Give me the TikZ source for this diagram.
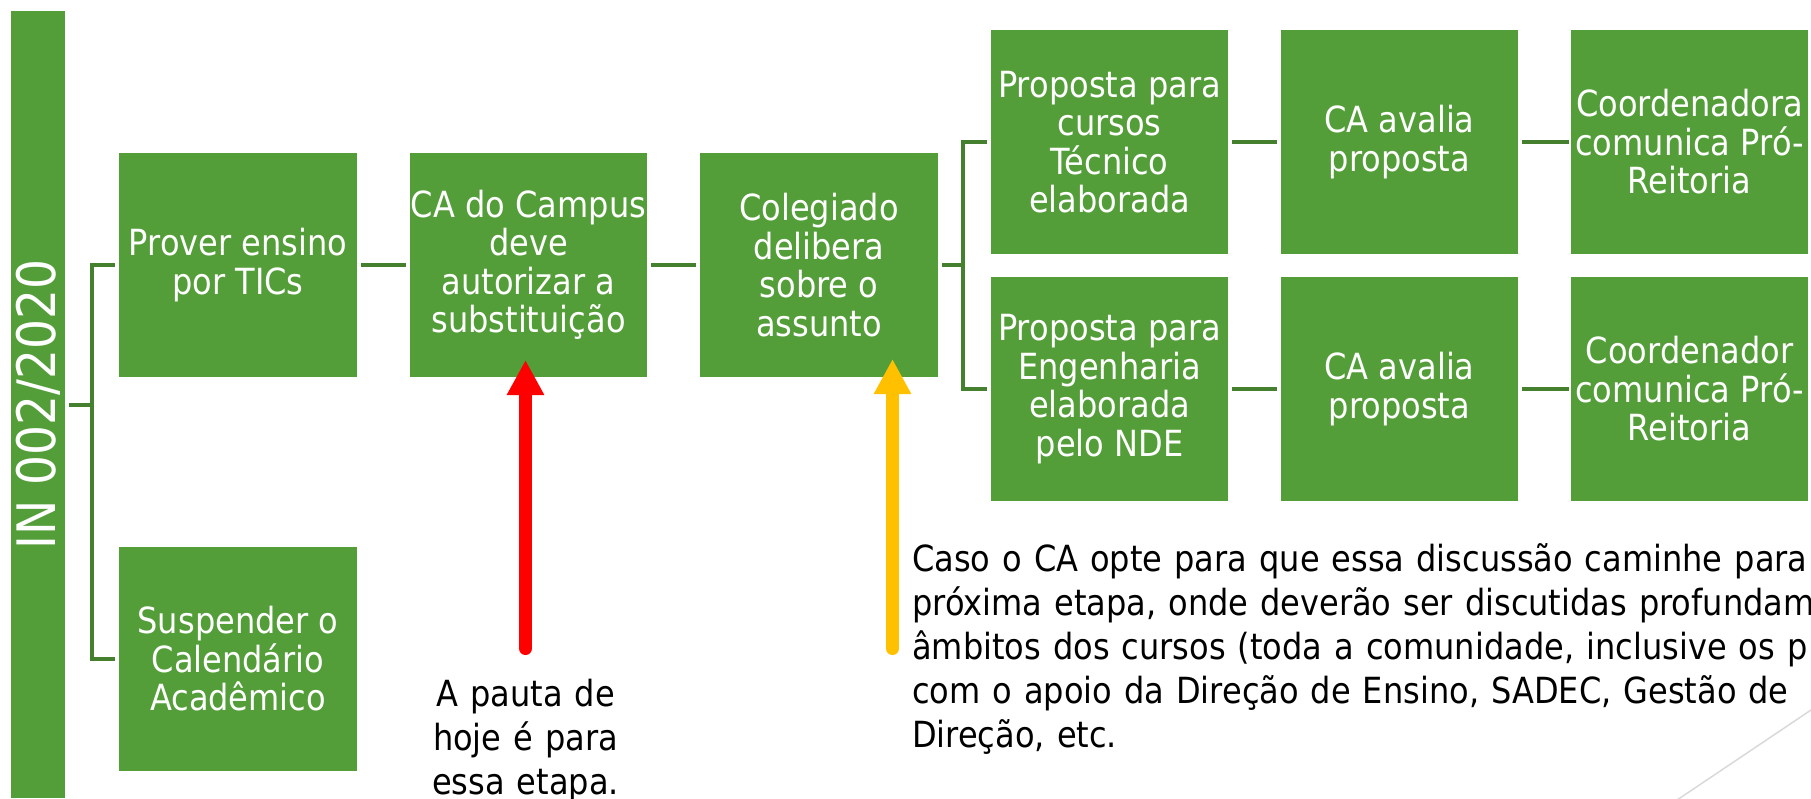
\documentclass[tikz,border=0pt]{standalone}
\usepackage{fontspec}
\setmainfont{DejaVu Sans}[FakeStretch=0.89]
\usetikzlibrary{arrows.meta}
\definecolor{boxgreen}{RGB}{84,158,57}
\definecolor{linegreen}{RGB}{68,128,46}
\definecolor{arrred}{RGB}{255,0,0}
\definecolor{arryellow}{RGB}{255,192,0}
\definecolor{diaggray}{RGB}{217,217,217}
\begin{document}
\begin{tikzpicture}[x=1pt,y=-1pt,
  greenbox/.style={fill=boxgreen, draw=none, minimum width=237.5pt, minimum height=224pt,
    inner sep=0pt, text=white, align=center, font=\fontsize{36}{38.5}\selectfont},
  barbox/.style={fill=boxgreen, draw=none, minimum width=54pt, minimum height=787pt, inner sep=0pt},
  bartext/.style={text=white, inner sep=0pt, font=\fontsize{53}{60}\selectfont},
  conn/.style={draw=linegreen, line width=4pt},
  note/.style={text=black, inner sep=0pt, font=\fontsize{36}{44}\selectfont},
  bigarrow/.style={line width=13pt, line cap=round, -{Triangle[length=35pt,width=35pt]}}]
\useasboundingbox (0,0) rectangle (1811,798);
\clip (0,0) rectangle (1811,798);

% left bar
\node[barbox] (bar) at (38,404.5) {};
\node[bartext, rotate=90] (bartitle) at (bar.center) {IN 002/2020};

% boxes
\node[greenbox] (prover) at (238,265) {Prover ensino\\por TICs};
\node[greenbox] (susp) at (238,659) {Suspender o\\Calendário\\Acadêmico};
\node[greenbox] (cac) at (528.5,265) {CA do Campus\\deve\\autorizar a\\substituição};
\node[greenbox] (coleg) at (819,265) {Colegiado\\delibera\\sobre o\\assunto};
\node[greenbox] (prop1) at (1109.5,142) {Proposta para\\cursos\\Técnico\\elaborada};
\node[greenbox] (cav1) at (1399.5,142) {CA avalia\\proposta};
\node[greenbox] (coord1) at (1689.5,142) {Coordenadora\\comunica Pró-\\Reitoria};
\node[greenbox] (prop2) at (1109.5,389) {Proposta para\\Engenharia\\elaborada\\pelo NDE};
\node[greenbox] (cav2) at (1399.5,389) {CA avalia\\proposta};
\node[greenbox] (coord2) at (1689.5,389) {Coordenador\\comunica Pró-\\Reitoria};

% connectors
\draw[conn] ([xshift=4pt]bar.east) -- ++(23,0) coordinate (j1);
\draw[conn] ([xshift=-4pt]prover.west) -| (j1) |- ([xshift=-4pt]susp.west);
\draw[conn] ([xshift=4pt]prover.east) -- ([xshift=-4pt]cac.west);
\draw[conn] ([xshift=4pt]cac.east) -- ([xshift=-4pt]coleg.west);
\draw[conn] ([xshift=4pt]coleg.east) -- ++(21,0) coordinate (j2);
\draw[conn] ([xshift=-4pt]prop1.west) -| (j2) |- ([xshift=-4pt]prop2.west);
\draw[conn] ([xshift=4pt]prop1.east) -- ([xshift=-4pt]cav1.west);
\draw[conn] ([xshift=4pt]cav1.east) -- ([xshift=-2pt]coord1.west);
\draw[conn] ([xshift=4pt]prop2.east) -- ([xshift=-4pt]cav2.west);
\draw[conn] ([xshift=4pt]cav2.east) -- ([xshift=-2pt]coord2.west);

% arrows
\coordinate (redtail) at (525.5,648.5);
\coordinate (redtip) at (525.5,360);
\draw[bigarrow, draw=arrred] (redtail) -- (redtip);
\coordinate (yeltail) at (892.5,648.5);
\coordinate (yeltip) at (892.5,359);
\draw[bigarrow, draw=arryellow] (yeltail) -- (yeltip);

% notes
\node[note, anchor=base, align=center, text width=300pt] (pauta) at (525.5,706)
  {A pauta de\\hoje é para\\essa etapa.};
\node[note, anchor=base west, align=left, text width=1100pt] (caso) at (912,571)
  {Caso o CA opte para que essa discussão caminhe para\\
   próxima etapa, onde deverão ser discutidas profundam\\
   âmbitos dos cursos (toda a comunidade, inclusive os p\\
   com o apoio da Direção de Ensino, SADEC, Gestão de\\
   Direção, etc.};

% decorative line
\coordinate (g1) at (1677,800);
\coordinate (g2) at (1814,708);
\draw[draw=diaggray, line width=1.5pt] (g1) -- (g2);
\end{tikzpicture}
\end{document}
